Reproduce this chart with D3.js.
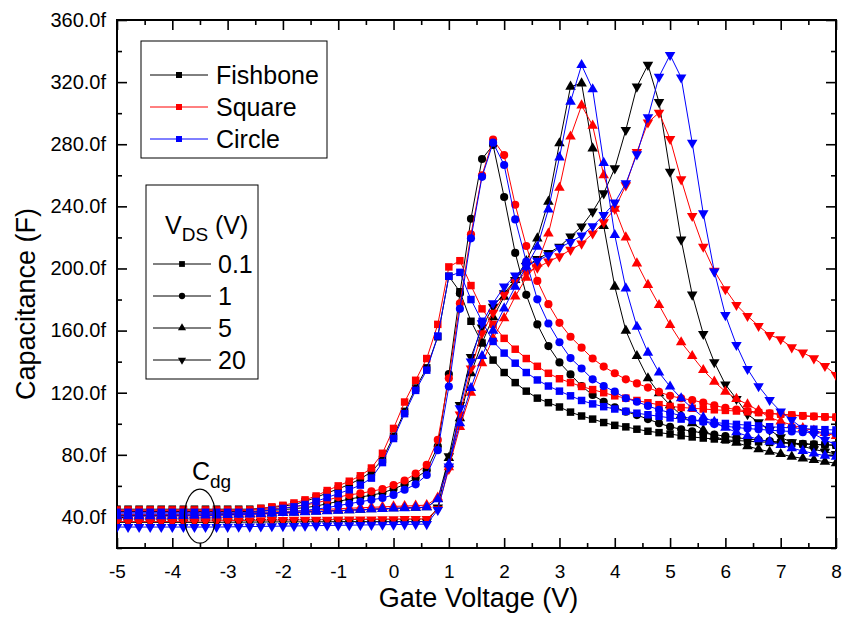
<!DOCTYPE html>
<html>
<head>
<meta charset="utf-8">
<script src="https://cdn.jsdelivr.net/npm/d3@7"></script>
<style>
  body { margin: 0; background: #fff; }
  svg { display: block; font-family: Arial, "Liberation Sans", sans-serif; }
</style>
</head>
<body>
<div id="chart"></div>
<script>
// gate voltage sweep, -5 V to 8 V in 0.2 V steps
const gateVoltage = d3.range(66).map(i => Math.round((-5 + i * 0.2) * 10) / 10);

// capacitance in fF, one value per gate voltage step (5 per volt)
const fishboneVds01 = [
  45, 45, 45, 45, 45,  45, 45, 45, 45, 45,  45, 45, 45, 45.5, 46,
  47, 48, 50, 52.5, 55.5,  58, 61, 64.5, 69, 77,  92, 108, 123, 136, 156,
  195, 185, 166, 152, 141,  133, 126.5, 121, 116.5, 113.6,  110.8, 107.5, 105, 103, 100.8,
  99, 98, 96.5, 95.2, 94.3,  93.4, 92.3, 91.5, 90.8, 90.2,  89.6, 89.2, 88.8, 88.4, 88,
  87.6, 87.3, 87, 86.7, 86.4,  86.2
];
const fishboneVds1 = [
  43.5, 43.5, 43.5, 43.5, 43.5,  43.5, 43.5, 43.5, 43.5, 43.5,  43.5, 43.5, 43.5, 43.8, 44.2,
  44.7, 45.3, 46, 47, 48.5,  50, 51.5, 52.8, 54, 55.5,  58, 61, 65, 70, 85.5,
  132, 184, 232, 270.5, 279.5,  246, 210, 183, 164, 150,  139.5, 131.8, 124.3, 118.5, 114.2,
  110.6, 107.8, 105.6, 103, 100.3,  98.1, 96.4, 95.2, 94, 93,  92, 91, 90.2, 89.5, 88.8,
  88.2, 87.6, 87.1, 86.7, 86.4,  86.2
];
const fishboneVds5 = [
  41, 41, 41, 41, 41,  41, 41.1, 41.2, 41.3, 41.4,  41.5, 41.7, 41.9, 42.1, 42.3,
  42.6, 42.9, 43.2, 43.5, 43.8,  44.1, 44.4, 44.7, 45, 45.3,  45.6, 45.8, 46, 46.2, 51.5,
  78, 103.5, 132.5, 152, 168.6,  181.8, 192.6, 204.8, 219.4, 243,  280.6, 317.1, 319.2, 277.3, 227.4,
  188.3, 160, 143.6, 129.3, 119.6,  112, 105.6, 100.3, 96, 91.7,  89.6, 87.8, 85.6, 83.6, 82,
  80.5, 78.8, 77.7, 76.7, 75.6,  74.6
];
const fishboneVds20 = [
  36.5, 36.5, 36.5, 36.5, 36.5,  36.5, 36.5, 36.5, 36.5, 36.5,  36.6, 36.6, 36.7, 36.7, 36.8,
  36.8, 36.8, 36.9, 36.9, 36.9,  37, 37, 37, 37, 37,  37, 37, 37, 37, 46,
  79, 112, 143, 162, 175.4,  184, 192.6, 201.5, 206, 210,  214, 220.5, 227, 236.6, 248.4,
  264.5, 289.2, 317.1, 331.1, 307.1,  262.3, 218.6, 183.2, 157.8, 139.6,  125.3, 116, 106.1, 100.9, 96,
  91.3, 88, 85.5, 83.5, 82,  80.5
];

const squareVds01 = [
  44.5, 44.5, 44.5, 44.5, 44.5,  44.5, 44.5, 44.5, 44.5, 44.5,  44.5, 44.5, 44.5, 45.5, 46.5,
  47.5, 49, 51, 53.5, 57,  60, 63, 66.5, 71.5, 81,  97, 114, 128, 142, 164,
  201, 205, 189, 174, 164,  155, 148, 142, 137, 132.5,  129, 126.5, 124, 122, 120,
  118, 116.5, 115, 113.5, 112.3,  111.2, 110.5, 110, 109.5, 109,  108.6, 108.2, 107.7, 107.2, 106.7,
  106.2, 105.7, 105.2, 104.8, 104.5,  104.3
];
const squareVds1 = [
  44, 44, 44, 44, 44,  44, 44, 44, 44, 44,  44, 44, 44.3, 44.7, 45.2,
  45.8, 46.6, 47.6, 49, 50.8,  52.8, 54.2, 55.2, 56.5, 58,  60.5, 63.5, 68, 73.5, 89.6,
  129.3, 177.6, 222, 260, 283,  273, 241, 214.5, 192, 177,  165, 156, 149, 142, 136.8,
  132.5, 128.6, 126, 123.3, 120.5,  118, 116.4, 115.2, 113.6, 111.8,  110.2, 109.2, 108.2, 107.4, 106.7,
  106, 105.4, 105, 104.6, 104.3,  104.1
];
const squareVds5 = [
  41.5, 41.5, 41.5, 41.5, 41.5,  41.6, 41.7, 41.8, 41.9, 42,  42.2, 42.4, 42.6, 42.9, 43.2,
  43.5, 43.8, 44.1, 44.5, 44.9,  45.3, 45.6, 45.9, 46.2, 46.5,  46.8, 47, 47.3, 47.6, 52.5,
  72, 98, 120, 139, 155,  168, 182, 194, 203.3, 222.5,  252, 285, 305, 292, 260,
  238.5, 220, 203.3, 189.4, 176.5,  163.6, 152.5, 143.6, 134.6, 127.1,  120.7, 116, 112.5, 108.5, 104,
  101.5, 99.2, 97.2, 95.6, 94,  92.2
];
const squareVds20 = [
  37, 37, 37, 37, 37,  37.1, 37.2, 37.3, 37.4, 37.5,  37.6, 37.7, 37.8, 37.9, 38,
  38, 38.1, 38.1, 38.2, 38.2,  38.3, 38.3, 38.4, 38.4, 38.5,  38.5, 38.6, 38.6, 38.7, 45,
  71, 106, 135.6, 158.3, 171.5,  183, 191.5, 197.3, 200.5, 204.4,  207.8, 212, 216, 222.5, 229.8,
  238.4, 253.5, 275, 294, 300.3,  283.4, 257.4, 233.8, 214, 198.5,  186.6, 176.5, 169.4, 163, 157.2,
  154.4, 149.2, 145.8, 142.1, 137.2,  131.4
];

const circleVds01 = [
  43, 43, 43, 43, 43,  43, 43, 43, 43, 43,  43, 43, 43, 43.5, 44.5,
  45.5, 46.5, 48, 50, 52.5,  55, 57.5, 60.5, 65, 75,  90.5, 106.5, 121.5, 134.5, 156.5,
  195, 197.5, 180, 166, 153,  145.5, 139, 133, 128.2, 124.3,  121, 118, 115, 112.8, 111,
  109.5, 108, 106.8, 105.8, 104.8,  103.8, 103, 102.2, 101.5, 100.8,  100.2, 99.6, 99.1, 98.6, 98.1,
  97.7, 97.3, 96.9, 96.5, 96.2,  96
];
const circleVds1 = [
  42, 42, 42, 42, 42,  42, 42, 42, 42, 42,  42, 42, 42.2, 42.4, 42.7,
  43, 43.5, 44.2, 45, 46,  47.3, 48.5, 49.8, 51, 52.2,  54.2, 57.5, 61, 67, 83,
  124, 174, 219.4, 259, 281,  266.6, 231.6, 204.4, 180.1, 164.6,  152.5, 142.3, 135.6, 128.6, 124.3,
  120.7, 116.4, 114.2, 111.5, 109,  107.2, 105, 103, 101.3, 99.8,  98.4, 97.6, 96.9, 96.4, 95.9,
  95.4, 95, 94.6, 94.3, 94,  93.8
];
const circleVds5 = [
  40.5, 40.5, 40.5, 40.5, 40.5,  40.6, 40.7, 40.8, 40.9, 41,  41.2, 41.4, 41.6, 41.9, 42.2,
  42.5, 42.8, 43.1, 43.4, 43.7,  44, 44.3, 44.6, 44.9, 45.2,  45.5, 45.7, 46, 46.3, 51.4,
  74, 100.3, 123, 143.6, 160,  174.3, 188.3, 201.2, 214, 238,  271.5, 307.4, 331, 315.4, 268,
  221.5, 187.2, 162.5, 145.8, 133,  124, 116.4, 110, 104.2, 101.3,  97.5, 94.5, 92.1, 90, 88.5,
  86.3, 84.3, 82.5, 80.8, 79.5,  78.8
];
const circleVds20 = [
  33.5, 33.5, 33.5, 33.5, 33.5,  33.5, 33.5, 33.5, 33.5, 33.5,  33.6, 33.7, 33.8, 33.9, 34,
  34.1, 34.2, 34.3, 34.4, 34.5,  34.6, 34.7, 34.8, 34.9, 35,  35.1, 35.2, 35.3, 35.4, 44.5,
  72.4, 110, 140, 164.7, 177.6,  188.3, 195.4, 201.6, 205, 208.5,  213.3, 217, 221.2, 227.2, 234.4,
  242.4, 254.8, 273.5, 297.3, 323.5,  337.5, 323, 281, 235.5, 198,  170, 150.7, 135.3, 124.2, 115.3,
  107.8, 102.4, 97, 93.4, 89.6,  86.5
];

const structures = ['Fishbone', 'Square', 'Circle'];
const vdsLevels = ['0.1', '1', '5', '20'];
const xTicks = [-5, -4, -3, -2, -1, 0, 1, 2, 3, 4, 5, 6, 7, 8];
const yTicks = [40, 80, 120, 160, 200, 240, 280, 320, 360];

const seriesTable = [
  { structure: 'Fishbone', vds: '0.1', values: fishboneVds01 },
  { structure: 'Fishbone', vds: '1', values: fishboneVds1 },
  { structure: 'Fishbone', vds: '5', values: fishboneVds5 },
  { structure: 'Fishbone', vds: '20', values: fishboneVds20 },
  { structure: 'Square', vds: '0.1', values: squareVds01 },
  { structure: 'Square', vds: '1', values: squareVds1 },
  { structure: 'Square', vds: '5', values: squareVds5 },
  { structure: 'Square', vds: '20', values: squareVds20 },
  { structure: 'Circle', vds: '0.1', values: circleVds01 },
  { structure: 'Circle', vds: '1', values: circleVds1 },
  { structure: 'Circle', vds: '5', values: circleVds5 },
  { structure: 'Circle', vds: '20', values: circleVds20 }
];

class CapacitanceChart {
  constructor(_config, _data) {
    this.config = _config;
    this.data = _data;
    this.colors = { Fishbone: '#000000', Square: '#ff0000', Circle: '#0000ff' };
    this.initVis();
  }

  // marker shape for each drain voltage
  markerPath(vds, scale = 1) {
    const types = { '0.1': d3.symbolSquare, '1': d3.symbolCircle, '5': d3.symbolTriangle, '20': d3.symbolTriangle };
    const sizes = { '0.1': 56, '1': 52, '5': 48, '20': 48 };
    return d3.symbol().type(types[vds]).size(sizes[vds] * scale)();
  }

  markerTransform(vds, x, y) {
    return vds === '20' ? `translate(${x},${y}) rotate(180)` : `translate(${x},${y})`;
  }

  initVis() {
    let vis = this;

    vis.margin = { top: 20, right: 7, bottom: 71, left: 117 };
    vis.width = vis.config.containerWidth - vis.margin.left - vis.margin.right;
    vis.height = vis.config.containerHeight - vis.margin.top - vis.margin.bottom;

    vis.root = d3.select(vis.config.parentElement)
      .append('svg')
      .attr('width', vis.config.containerWidth)
      .attr('height', vis.config.containerHeight);

    vis.svg = vis.root.append('g')
      .attr('transform', `translate(${vis.margin.left},${vis.margin.top})`);

    vis.xScale = d3.scaleLinear().domain([-5, 8]).range([0, vis.width]);
    vis.yScale = d3.scaleLinear().domain([20, 360]).range([vis.height, 0]);

    vis.svg.append('clipPath').attr('id', 'plot-clip')
      .append('rect').attr('width', vis.width).attr('height', vis.height);

    vis.renderAxes();
    vis.renderVis();
    vis.renderLegends();
  }

  renderAxes() {
    let vis = this;
    const xMinor = d3.range(-4.5, 8, 1);
    const yMinor = d3.range(20, 361, 40);

    const styleAxis = g => {
      g.select('.domain').remove();
      g.selectAll('line').attr('stroke', '#000').attr('stroke-width', 1.6);
      g.selectAll('text').attr('fill', '#000');
    };

    // bottom
    vis.svg.append('g')
      .attr('transform', `translate(0,${vis.height})`)
      .call(d3.axisBottom(vis.xScale).tickValues(xTicks).tickSize(-10).tickPadding(17)
        .tickFormat(d => String(d)))
      .call(styleAxis)
      .selectAll('text').attr('font-size', 19);
    vis.svg.append('g')
      .attr('transform', `translate(0,${vis.height})`)
      .call(d3.axisBottom(vis.xScale).tickValues(xMinor).tickSize(-5).tickFormat(''))
      .call(styleAxis);

    // top mirror
    vis.svg.append('g')
      .call(d3.axisTop(vis.xScale).tickValues(xTicks).tickSize(-10).tickFormat(''))
      .call(styleAxis);
    vis.svg.append('g')
      .call(d3.axisTop(vis.xScale).tickValues(xMinor).tickSize(-5).tickFormat(''))
      .call(styleAxis);

    // left
    vis.svg.append('g')
      .call(d3.axisLeft(vis.yScale).tickValues(yTicks).tickSize(-10).tickPadding(11)
        .tickFormat(d => `${d.toFixed(1)}f`))
      .call(styleAxis)
      .selectAll('text').attr('font-size', 20);
    vis.svg.append('g')
      .call(d3.axisLeft(vis.yScale).tickValues(yMinor).tickSize(-5).tickFormat(''))
      .call(styleAxis);

    // right mirror
    vis.svg.append('g')
      .attr('transform', `translate(${vis.width},0)`)
      .call(d3.axisRight(vis.yScale).tickValues(yTicks).tickSize(-10).tickFormat(''))
      .call(styleAxis);
    vis.svg.append('g')
      .attr('transform', `translate(${vis.width},0)`)
      .call(d3.axisRight(vis.yScale).tickValues(yMinor).tickSize(-5).tickFormat(''))
      .call(styleAxis);

    vis.svg.append('rect')
      .attr('width', vis.width)
      .attr('height', vis.height)
      .attr('fill', 'none')
      .attr('stroke', '#000')
      .attr('stroke-width', 2);

    vis.svg.append('text')
      .attr('x', vis.width / 2 + 2)
      .attr('y', vis.height + 59)
      .attr('text-anchor', 'middle')
      .attr('font-size', 27)
      .text('Gate Voltage (V)');

    vis.svg.append('text')
      .attr('transform', `translate(${-82},${vis.height / 2 + 20}) rotate(-90)`)
      .attr('text-anchor', 'middle')
      .attr('font-size', 27)
      .text('Capacitance (F)');
  }

  renderVis() {
    let vis = this;

    const line = d3.line()
      .x((d, i) => vis.xScale(gateVoltage[i]))
      .y(d => vis.yScale(d));

    const plot = vis.svg.append('g').attr('clip-path', 'url(#plot-clip)');

    const series = plot.selectAll('.series')
      .data(vis.data)
      .join('g')
      .attr('class', 'series');

    series.append('path')
      .attr('d', d => line(d.values))
      .attr('fill', 'none')
      .attr('stroke', d => vis.colors[d.structure])
      .attr('stroke-width', 1);

    series.each(function (s) {
      d3.select(this).selectAll('.marker')
        .data(s.values)
        .join('path')
        .attr('class', 'marker')
        .attr('d', vis.markerPath(s.vds))
        .attr('transform', (d, i) => vis.markerTransform(s.vds, vis.xScale(gateVoltage[i]), vis.yScale(d)))
        .attr('fill', vis.colors[s.structure]);
    });

    // C_dg annotation around the off-state plateau
    const cx = vis.xScale(-3.5);
    vis.svg.append('ellipse')
      .attr('cx', cx)
      .attr('cy', vis.yScale(40.5))
      .attr('rx', 15.5)
      .attr('ry', 27)
      .attr('fill', 'none')
      .attr('stroke', '#000')
      .attr('stroke-width', 1.2);

    const cdg = vis.svg.append('text')
      .attr('x', cx - 8)
      .attr('y', vis.yScale(40.5) - 36)
      .attr('font-size', 25);
    cdg.append('tspan').text('C');
    cdg.append('tspan').attr('dy', 8).attr('font-size', 19).text('dg');
  }

  renderLegends() {
    let vis = this;
    const legends = vis.root.append('g');

    // structure legend
    const box1 = legends.append('g').attr('transform', 'translate(141,41)');
    box1.append('rect')
      .attr('width', 186).attr('height', 117)
      .attr('fill', '#fff').attr('stroke', '#000').attr('stroke-width', 1);
    const rows1 = box1.selectAll('.row')
      .data(structures)
      .join('g')
      .attr('transform', (d, i) => `translate(0,${34 + i * 32})`);
    rows1.append('line')
      .attr('x1', 9).attr('x2', 67)
      .attr('stroke', d => vis.colors[d]).attr('stroke-width', 1);
    rows1.append('path')
      .attr('d', vis.markerPath('0.1', 0.65))
      .attr('transform', 'translate(38,0)')
      .attr('fill', d => vis.colors[d]);
    rows1.append('text')
      .attr('x', 75).attr('dy', '0.35em')
      .attr('font-size', 25)
      .text(d => d);

    // drain voltage legend
    const box2 = legends.append('g').attr('transform', 'translate(146,185)');
    box2.append('rect')
      .attr('width', 112).attr('height', 194)
      .attr('fill', '#fff').attr('stroke', '#000').attr('stroke-width', 1);
    const title = box2.append('text')
      .attr('x', 19).attr('y', 49)
      .attr('font-size', 25);
    title.append('tspan').text('V');
    title.append('tspan').attr('dy', 7).attr('font-size', 19).text('DS');
    title.append('tspan').attr('dy', -7).text(' (V)');

    const rows2 = box2.selectAll('.row')
      .data(vdsLevels)
      .join('g')
      .attr('transform', (d, i) => `translate(0,${79 + i * 32})`);
    rows2.append('line')
      .attr('x1', 7).attr('x2', 65)
      .attr('stroke', '#000').attr('stroke-width', 1);
    rows2.append('path')
      .attr('d', d => vis.markerPath(d, 0.6))
      .attr('transform', d => vis.markerTransform(d, 36, 0))
      .attr('fill', '#000');
    rows2.append('text')
      .attr('x', 72).attr('dy', '0.35em')
      .attr('font-size', 25)
      .text(d => d);
  }
}

new CapacitanceChart({ parentElement: '#chart', containerWidth: 843, containerHeight: 619 }, seriesTable);
</script>
</body>
</html>
